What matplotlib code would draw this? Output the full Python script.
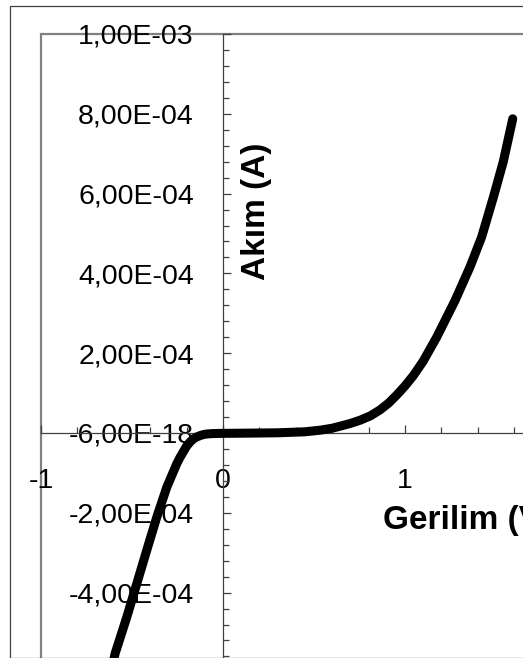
import matplotlib
matplotlib.use('Agg')
import matplotlib.pyplot as plt
from matplotlib.patches import Rectangle
from matplotlib.ticker import FixedLocator, MultipleLocator

# diyot I-V egrisi
gerilim = [-0.61, -0.593, -0.529, -0.474, -0.419, -0.364, -0.309, -0.254, -0.236,
           -0.2, -0.18, -0.163, -0.145, -0.126, -0.108, -0.09, -0.06, -0.02, 0.1,
           0.3, 0.45, 0.533, 0.6, 0.643, 0.7, 0.753, 0.81, 0.863, 0.91, 0.954,
           1.0, 1.046, 1.1, 1.174, 1.275, 1.357, 1.421, 1.485, 1.54, 1.592]
akim = [-5.9e-4, -5.53e-4, -4.62e-4, -3.78e-4, -2.94e-4, -2.11e-4, -1.36e-4,
        -7.7e-5, -6.1e-5, -3.3e-5, -2.2e-5, -1.5e-5, -1.0e-5, -6.5e-6, -4e-6,
        -2.5e-6, -1.5e-6, -1e-6, -5e-7, 5e-7, 3e-6, 7e-6, 1.2e-5, 1.7e-5,
        2.4e-5, 3.2e-5, 4.3e-5, 5.8e-5, 7.5e-5, 9.5e-5, 1.18e-4, 1.44e-4,
        1.8e-4, 2.4e-4, 3.32e-4, 4.16e-4, 4.91e-4, 5.9e-4, 6.8e-4, 7.875e-4]

x_ticks = [-1, 0, 1]
x_tick_labels = ['-1', '0', '1']
y_ticks = [-4e-4, -2e-4, 0.0, 2e-4, 4e-4, 6e-4, 8e-4, 1e-3]
y_tick_labels = ['-4,00E-04', '-2,00E-04', '-6,00E-18', '2,00E-04', '4,00E-04',
                 '6,00E-04', '8,00E-04', '1,00E-03']

plt.rcParams['font.family'] = ['Liberation Sans', 'DejaVu Sans']

W, H = 523, 658
fig = plt.figure(figsize=(W / 100, H / 100), dpi=100)

# grafik alani: x=-1 -> 41px, x=0 -> 223px, y=1e-3 -> 34px, y=0 -> 432px
px_x = 182.0
px_y = 399.0e3
left = 41
top = 34
ax = fig.add_axes([left / W, 1 - (top + 2e-3 * px_y) / H, 3 * px_x / W, 2e-3 * px_y / H])
ax.set_xlim(-1, 2)
ax.set_ylim(-1e-3, 1e-3)

ax.plot(gerilim, akim, color='black', lw=6.5, solid_capstyle='round',
        solid_joinstyle='round', clip_on=False, zorder=5)

for s in ['top', 'right']:
    ax.spines[s].set_visible(False)
ax.spines['left'].set_position(('data', 0))
ax.spines['bottom'].set_position(('data', 0))
for s in ['left', 'bottom']:
    ax.spines[s].set_color('#404040')
    ax.spines[s].set_linewidth(0.9)

ax.add_patch(Rectangle((0, 0), 1, 1, transform=ax.transAxes, fill=False,
                       ec='#808080', lw=1.6, clip_on=False, zorder=1))

ax.xaxis.set_major_locator(FixedLocator(x_ticks))
ax.set_xticklabels(x_tick_labels)
ax.xaxis.set_minor_locator(MultipleLocator(0.2))
ax.yaxis.set_major_locator(FixedLocator(y_ticks))
ax.set_yticklabels(y_tick_labels)
ax.yaxis.set_minor_locator(MultipleLocator(4e-5))

ax.tick_params(axis='both', which='both', direction='in', color='#404040', width=0.9)
ax.tick_params(axis='both', which='major', length=6, labelsize=20.5)
ax.tick_params(axis='both', which='minor', length=4.5)
ax.tick_params(axis='y', which='major', pad=21)
ax.tick_params(axis='x', which='major', pad=25)

fig.text(383 / W, 1 - 520 / H, 'Gerilim (V)', ha='left', va='center',
         fontsize=24, fontweight='bold')
fig.text(257 / W, 1 - 211.5 / H, 'Akım (A)', ha='center', va='center',
         rotation=90, fontsize=24, fontweight='bold')

# dis cerceve
fig.patches.append(Rectangle((9.5 / W, 0), 2, 1 - 5.5 / H, transform=fig.transFigure,
                             fill=False, ec='#404040', lw=0.9))

fig.savefig('out.png', dpi=100)
